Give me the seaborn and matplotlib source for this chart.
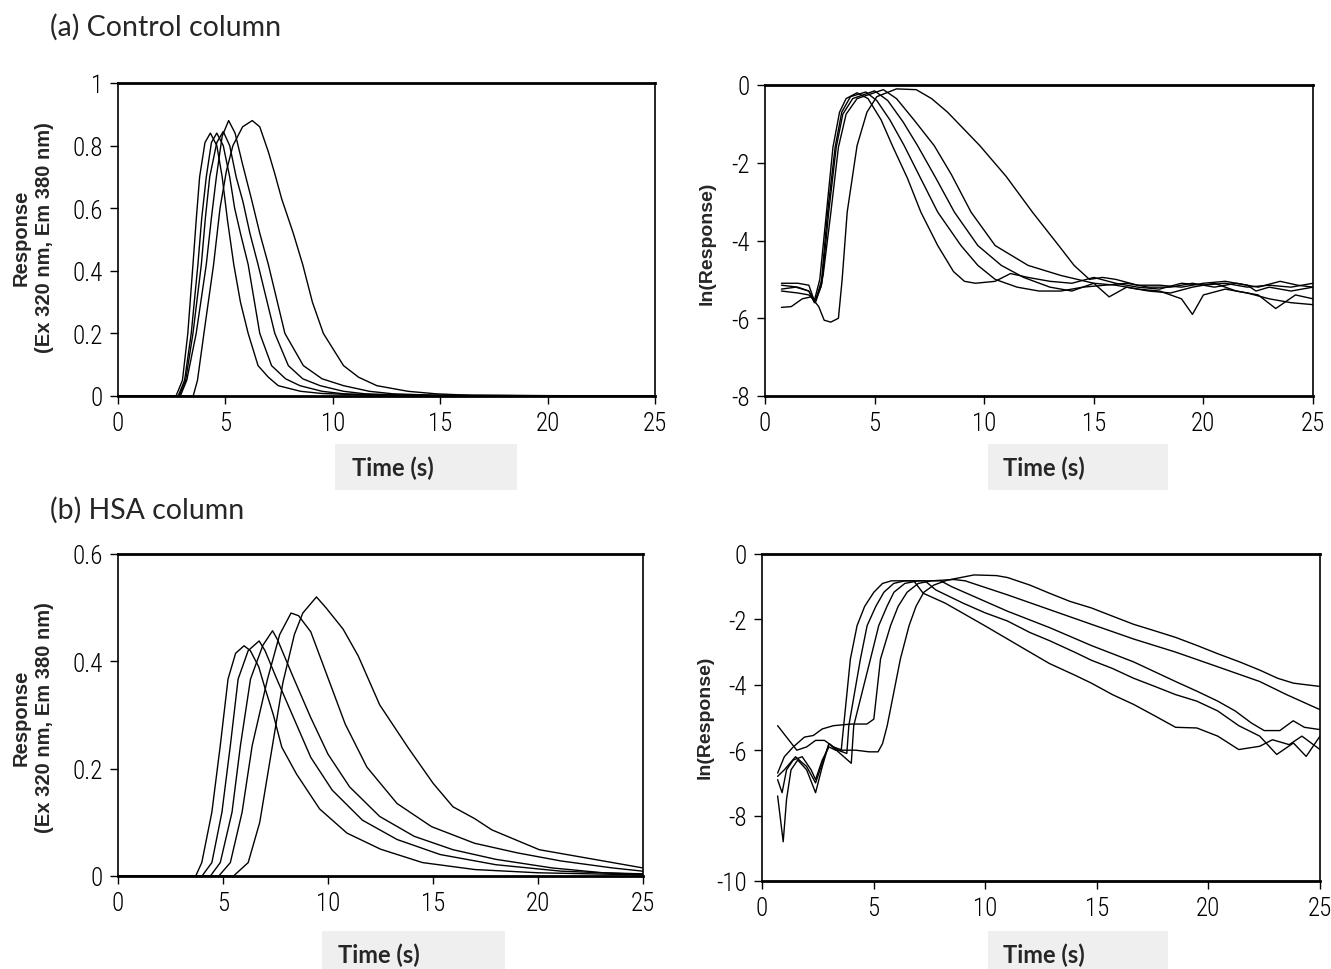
import matplotlib
matplotlib.use("Agg")
import matplotlib.pyplot as plt
import pandas as pd
import seaborn as sns
from matplotlib.patches import Rectangle

# (a) Control column - response vs time, five injections
ctrl_resp_t = [
    [0, 2.7, 3.0, 3.25, 3.49, 3.65, 3.8, 4.05, 4.3, 4.6, 4.85, 5.1, 5.39, 5.7, 6.06, 6.52, 7.0, 7.46, 8.5, 9.5, 12, 25],
    [0, 2.8, 3.1, 3.41, 3.72, 3.9, 4.11, 4.35, 4.6, 4.9, 5.2, 5.43, 5.7, 6.06, 6.6, 7.15, 7.8, 8.47, 9.5, 10.5, 13, 25],
    [0, 2.85, 3.15, 3.49, 3.88, 4.07, 4.27, 4.6, 4.9, 5.2, 5.5, 5.82, 6.14, 6.52, 7.3, 7.93, 8.6, 9.41, 10.5, 11.5, 14, 25],
    [0, 2.9, 3.2, 3.64, 4.11, 4.35, 4.58, 4.85, 5.15, 5.45, 5.8, 6.21, 6.6, 7.0, 7.77, 8.63, 9.5, 10.5, 11.7, 12.8, 15, 25],
    [0, 3.5, 3.7, 4.0, 4.45, 4.75, 5.05, 5.35, 5.8, 6.25, 6.6, 7.0, 7.3, 7.62, 8.16, 8.6, 9.05, 9.56, 10.5, 11.2,
     12.05, 13.5, 14.8, 16.5, 25],
]
ctrl_resp_v = [
    [0, 0, 0.05, 0.2, 0.42, 0.57, 0.7, 0.81, 0.84, 0.8, 0.7, 0.56, 0.42, 0.3, 0.2, 0.097, 0.06, 0.033, 0.015, 0.008,
     0.002, 0],
    [0, 0, 0.05, 0.2, 0.42, 0.57, 0.7, 0.81, 0.84, 0.8, 0.7, 0.6, 0.52, 0.42, 0.2, 0.097, 0.055, 0.033, 0.015, 0.007,
     0.002, 0],
    [0, 0, 0.05, 0.2, 0.42, 0.57, 0.7, 0.81, 0.845, 0.8, 0.7, 0.62, 0.52, 0.42, 0.2, 0.097, 0.055, 0.033, 0.015,
     0.007, 0.002, 0],
    [0, 0, 0.05, 0.2, 0.42, 0.57, 0.7, 0.83, 0.88, 0.84, 0.74, 0.63, 0.52, 0.42, 0.2, 0.097, 0.055, 0.033, 0.015,
     0.007, 0.002, 0],
    [0, 0, 0.05, 0.2, 0.42, 0.6, 0.72, 0.8, 0.86, 0.88, 0.86, 0.78, 0.71, 0.63, 0.52, 0.42, 0.3, 0.2, 0.097, 0.06,
     0.033, 0.015, 0.007, 0.002, 0],
]

# (a) Control column - ln(response)
ctrl_ln_t = [
    [0.75, 1.5, 2.0, 2.25, 2.5, 2.8, 3.1, 3.4, 3.7, 4.2, 4.7, 5.3, 5.81, 6.5, 7.11, 7.88, 8.6, 9.1, 9.6, 10.5, 11.2,
     12.0, 13.0, 14.0, 15.0, 16.0, 17.0, 18.0, 19.0, 20.0, 21.0, 22.0, 23.0, 24.0, 25.0],
    [0.75, 1.5, 2.0, 2.25, 2.55, 2.85, 3.2, 3.5, 3.9, 4.6, 5.1, 5.7, 6.35, 7.1, 7.88, 8.94, 9.71, 10.5, 11.5, 12.5,
     13.5, 14.5, 15.5, 16.5, 17.5, 18.5, 19.5, 20.5, 21.5, 22.5, 23.5, 24.3, 25.0],
    [0.75, 1.4, 2.0, 2.3, 2.6, 2.9, 3.25, 3.55, 4.0, 5.0, 5.6, 6.3, 6.96, 7.8, 8.64, 9.71, 10.78, 11.8, 13.0, 14.0,
     15.0, 15.7, 16.5, 17.5, 18.5, 19.5, 20.5, 21.5, 22.5, 23.3, 24.2, 25.0],
    [0.75, 1.5, 2.0, 2.3, 2.65, 3.0, 3.35, 3.7, 4.2, 5.4, 6.0, 6.8, 7.72, 8.5, 9.4, 10.5, 12.0, 13.5, 15.0, 16.0,
     17.0, 18.0, 19.0, 19.5, 20.0, 21.0, 22.0, 23.0, 24.0, 25.0],
    [0.75, 1.2, 1.7, 2.1, 2.45, 2.7, 3.0, 3.35, 3.52, 3.75, 4.2, 4.65, 5.1, 6.0, 6.9, 7.6, 8.33, 9.8, 11.0, 12.2,
     13.4, 14.1, 14.8, 15.4, 16.0, 17.0, 18.0, 19.0, 20.0, 21.0, 22.0, 22.4, 23.0, 24.0, 25.0],
]
ctrl_ln_v = [
    [-5.1, -5.1, -5.15, -5.55, -5.0, -3.3, -1.6, -0.7, -0.35, -0.2, -0.35, -0.9, -1.56, -2.4, -3.27, -4.13, -4.8,
     -5.05, -5.1, -5.05, -4.85, -4.95, -5.05, -5.1, -4.95, -5.1, -5.2, -5.25, -5.1, -5.15, -5.1, -5.2, -5.15, -5.2, -5.1],
    [-5.15, -5.2, -5.3, -5.6, -5.2, -3.3, -1.6, -0.7, -0.3, -0.18, -0.4, -0.9, -1.56, -2.4, -3.27, -4.13, -4.64,
     -5.0, -5.2, -5.3, -5.3, -5.2, -5.15, -5.1, -5.2, -5.2, -5.1, -5.2, -5.1, -5.2, -5.05, -5.15, -5.2],
    [-5.25, -5.2, -5.3, -5.6, -5.1, -3.3, -1.6, -0.75, -0.35, -0.15, -0.4, -0.95, -1.56, -2.4, -3.27, -4.13, -4.64,
     -4.95, -5.2, -5.3, -5.1, -5.45, -5.2, -5.3, -5.35, -5.2, -5.1, -5.3, -5.4, -5.75, -5.4, -5.5],
    [-5.3, -5.35, -5.4, -5.55, -4.9, -3.3, -1.6, -0.75, -0.35, -0.12, -0.35, -0.9, -1.56, -2.3, -3.27, -4.13, -4.64,
     -4.9, -5.1, -5.15, -5.25, -5.3, -5.5, -5.9, -5.4, -5.25, -5.35, -5.5, -5.6, -5.65],
    [-5.72, -5.7, -5.5, -5.45, -5.7, -6.05, -6.1, -6.0, -5.0, -3.27, -1.56, -0.7, -0.3, -0.1, -0.12, -0.35, -0.7,
     -1.56, -2.35, -3.27, -4.13, -4.64, -5.0, -4.95, -5.0, -5.15, -5.15, -5.2, -5.1, -5.05, -5.15, -5.3, -5.2, -5.3, -5.2],
]

# (b) HSA column - response vs time
hsa_resp_t = [
    [0, 3.7, 3.99, 4.47, 4.87, 5.24, 5.6, 6.0, 6.3, 6.7, 7.0, 7.4, 7.8, 8.5, 9.6, 10.9, 12.5, 14.5, 17, 20, 25],
    [0, 4.0, 4.47, 4.95, 5.35, 5.72, 6.2, 6.72, 7.0, 7.54, 8.36, 9.18, 10.2, 11.64, 13.29, 15.34, 18.0, 21.1, 25],
    [0, 4.4, 4.87, 5.43, 5.83, 6.31, 6.9, 7.36, 7.6, 8.36, 9.18, 10.0, 11.03, 12.46, 14.1, 15.95, 18.0, 20.68, 23.1, 25],
    [0, 4.8, 5.35, 5.91, 6.39, 7.12, 7.7, 8.24, 8.6, 9.18, 10.0, 10.82, 11.85, 13.29, 14.93, 16.98, 19.03, 21.1,
     23.55, 25],
    [0, 5.5, 6.2, 6.75, 7.3, 7.85, 8.4, 8.8, 9.45, 9.9, 10.72, 11.44, 12.46, 13.8, 15.0, 15.95, 16.98, 17.8, 20.06,
     23.55, 25],
]
hsa_resp_v = [
    [0, 0, 0.025, 0.119, 0.243, 0.367, 0.415, 0.429, 0.42, 0.39, 0.35, 0.3, 0.24, 0.19, 0.125, 0.08, 0.05, 0.025,
     0.012, 0.006, 0.002],
    [0, 0, 0.025, 0.119, 0.243, 0.367, 0.42, 0.438, 0.42, 0.369, 0.295, 0.221, 0.16, 0.104, 0.068, 0.04, 0.021,
     0.009, 0.003],
    [0, 0, 0.025, 0.119, 0.243, 0.367, 0.43, 0.457, 0.44, 0.369, 0.295, 0.227, 0.166, 0.111, 0.074, 0.049, 0.031,
     0.015, 0.006, 0.004],
    [0, 0, 0.025, 0.119, 0.243, 0.367, 0.45, 0.49, 0.485, 0.455, 0.369, 0.283, 0.203, 0.135, 0.092, 0.061, 0.043,
     0.028, 0.015, 0.009],
    [0, 0, 0.025, 0.1, 0.23, 0.36, 0.45, 0.49, 0.52, 0.5, 0.46, 0.41, 0.319, 0.24, 0.173, 0.129, 0.107, 0.086, 0.049,
     0.025, 0.015],
]

# (b) HSA column - ln(response)
hsa_ln_t = [
    [0.7, 0.9, 1.1, 1.4, 1.8, 2.2, 2.4, 2.7, 3.0, 3.3, 3.55, 3.66, 3.96, 4.26, 4.6, 5.01, 5.4, 5.8, 6.8, 7.22, 8.2,
     9.1, 10.0, 11.0, 12.0, 12.88, 14.0, 14.76, 15.7, 16.65, 17.6, 18.53, 19.48, 20.42, 21.36, 22.3, 22.87, 23.62,
     24.19, 25],
    [0.7, 0.95, 1.1, 1.3, 1.6, 2.0, 2.4, 2.7, 3.0, 3.4, 3.8, 3.89, 4.41, 4.71, 5.1, 5.46, 5.9, 6.4, 7.3, 7.79, 9.0,
     10.0, 11.0, 12.0, 12.88, 14.0, 14.76, 15.7, 16.65, 17.6, 18.53, 19.48, 20.42, 21.36, 22.3, 23.06, 23.81, 24.38,
     25],
    [0.7, 1.0, 1.5, 2.0, 2.4, 2.8, 3.0, 3.5, 4.0, 4.11, 4.86, 5.23, 5.6, 5.91, 6.4, 7.0, 8.0, 8.5, 9.5, 11.0, 12.88,
     14.76, 16.65, 18.53, 19.5, 20.42, 21.2, 21.93, 22.5, 23.2, 23.8, 24.3, 25],
    [0.7, 1.0, 1.4, 1.9, 2.3, 2.7, 3.2, 4.0, 4.7, 5.01, 5.31, 5.76, 6.1, 6.5, 7.0, 7.6, 8.6, 9.1, 11.0, 12.88, 14.76,
     16.65, 18.53, 20.42, 22.3, 23.5, 25],
    [0.7, 1.1, 1.56, 2.0, 2.4, 2.8, 3.2, 3.6, 4.2, 4.8, 5.2, 5.4, 5.61, 6.2, 6.59, 6.9, 7.25, 7.7, 8.3, 9.5, 10.5,
     11.0, 12.0, 12.88, 13.8, 14.76, 15.7, 16.65, 17.6, 18.53, 19.5, 20.42, 21.4, 22.3, 23.1, 23.81, 24.4, 25],
]
hsa_ln_v = [
    [-6.9, -7.3, -6.6, -6.3, -6.2, -6.6, -6.9, -6.3, -5.9, -6.0, -6.0, -5.25, -3.21, -2.19, -1.6, -1.17, -0.9, -0.82,
     -0.82, -1.2, -1.5, -1.85, -2.2, -2.6, -3.0, -3.35, -3.7, -3.95, -4.3, -4.6, -4.95, -5.3, -5.32, -5.57, -5.98,
     -5.88, -5.68, -5.83, -5.57, -5.98],
    [-7.4, -8.8, -7.5, -6.6, -6.3, -6.6, -7.3, -6.5, -5.8, -6.0, -6.1, -5.25, -3.21, -2.19, -1.6, -1.17, -0.9, -0.82,
     -0.82, -1.1, -1.5, -1.8, -2.05, -2.4, -2.65, -3.0, -3.25, -3.5, -3.8, -4.05, -4.3, -4.5, -4.8, -5.25, -5.57,
     -6.13, -5.78, -6.19, -5.57],
    [-6.8, -6.6, -6.2, -6.5, -7.0, -6.2, -5.8, -6.1, -6.4, -5.25, -3.21, -2.19, -1.6, -1.17, -0.9, -0.82, -0.82,
     -1.0, -1.3, -1.75, -2.25, -2.8, -3.3, -3.9, -4.2, -4.5, -4.8, -5.17, -5.4, -5.4, -5.1, -5.3, -5.37],
    [-6.7, -6.2, -5.9, -5.6, -5.55, -5.35, -5.25, -5.2, -5.2, -5.05, -3.21, -2.19, -1.6, -1.17, -0.9, -0.82, -0.78,
     -0.82, -1.25, -1.7, -2.15, -2.6, -3.0, -3.45, -3.9, -4.3, -4.76],
    [-5.25, -5.6, -6.0, -5.9, -5.7, -5.7, -5.9, -6.0, -6.0, -6.05, -6.05, -5.8, -5.25, -3.21, -2.19, -1.6, -1.17,
     -0.95, -0.8, -0.64, -0.66, -0.72, -0.95, -1.2, -1.45, -1.65, -1.9, -2.15, -2.35, -2.55, -2.8, -3.05, -3.3, -3.55,
     -3.8, -3.95, -4.0, -4.05],
]

time_ticks = [0, 5, 10, 15, 20, 25]
resp_label = "Response\n(Ex 320 nm, Em 380 nm)"
ln_label = "ln(Response)"


def to_frame(times, values):
    rows = []
    for run, (ts, vs) in enumerate(zip(times, values)):
        for t, v in zip(ts, vs):
            rows.append((run, t, v))
    return pd.DataFrame(rows, columns=["run", "time", "value"])


sns.set_theme(style="white")
plt.rcParams["font.family"] = ["Liberation Sans", "DejaVu Sans"]

W, H = 1331, 970
fig = plt.figure(figsize=(W / 100, H / 100), dpi=100)


def px_rect(left, top, right, bottom):
    return [left / W, 1 - bottom / H, (right - left) / W, (bottom - top) / H]


panels = [
    (px_rect(118, 84, 655, 397), ctrl_resp_t, ctrl_resp_v, (0, 1), [0, 0.2, 0.4, 0.6, 0.8, 1],
     ["0", "0.2", "0.4", "0.6", "0.8", "1"]),
    (px_rect(765, 86, 1313, 397), ctrl_ln_t, ctrl_ln_v, (-8, 0), [-8, -6, -4, -2, 0],
     ["-8", "-6", "-4", "-2", "0"]),
    (px_rect(118, 555, 643, 877), hsa_resp_t, hsa_resp_v, (0, 0.6), [0, 0.2, 0.4, 0.6],
     ["0", "0.2", "0.4", "0.6"]),
    (px_rect(762, 555, 1320, 882), hsa_ln_t, hsa_ln_v, (-10, 0), [-10, -8, -6, -4, -2, 0],
     ["-10", "-8", "-6", "-4", "-2", "0"]),
]

# narrow face for the tick numbers, like the original Excel export
tick_kw = dict(family=["Roboto Condensed", "Archivo Narrow", "DejaVu Sans"], fontsize=18, fontweight="light")

for rect, ts, vs, ylim, yticks, ylabels in panels:
    ax = fig.add_axes(rect)
    df = to_frame(ts, vs)
    sns.lineplot(data=df, x="time", y="value", units="run", estimator=None, sort=False,
                 color="black", linewidth=1.0, ax=ax, legend=False)
    ax.set_xlim(0, 25)
    ax.set_ylim(*ylim)
    ax.set_xticks(time_ticks)
    ax.set_xticklabels([str(t) for t in time_ticks], **tick_kw)
    ax.set_yticks(yticks)
    ax.set_yticklabels(ylabels, **tick_kw)
    ax.set_xlabel("")
    ax.set_ylabel("")
    ax.tick_params(direction="out", length=6, width=1.0, colors="black", pad=5,
                   bottom=True, left=True)
    for side, sp in ax.spines.items():
        sp.set_visible(True)
        sp.set_color("black")
        sp.set_linewidth(2.0 if side in ("top", "bottom") else 1.2)

# panel titles
title_font = ["Lato", "DejaVu Sans"]
fig.text(50 / W, 1 - 27 / H, "(a) Control column", fontsize=20.5, family=title_font, va="center")
fig.text(50 / W, 1 - 510 / H, "(b) HSA column", fontsize=20.5, family=title_font, va="center")

# y axis titles
for x, y in [(33, 238), (33, 718)]:
    fig.text(x / W, 1 - y / H, resp_label, rotation=90, ha="center", va="center", fontsize=14.5,
             fontweight="bold", linespacing=1.3)
for x, y in [(707, 243), (705, 717)]:
    fig.text(x / W, 1 - y / H, ln_label, rotation=90, ha="center", va="center", fontsize=14,
             fontweight="bold")

# "Time (s)" captions sitting in light grey boxes
for left, top, right, bottom, tx, cy in [(335, 445, 517, 491, 352, 468), (988, 445, 1168, 491, 1003, 468),
                                         (322, 932, 505, 970, 338, 955), (988, 932, 1168, 970, 1003, 955)]:
    fig.patches.append(Rectangle((left / W, 1 - bottom / H), (right - left) / W, (bottom - top) / H,
                                 transform=fig.transFigure, facecolor="#efefef", edgecolor="none"))
    fig.text(tx / W, 1 - cy / H, "Time (s)", fontsize=17, fontweight="bold",
             family=title_font, va="center", ha="left")

fig.savefig("out.png", dpi=100, facecolor="white")
